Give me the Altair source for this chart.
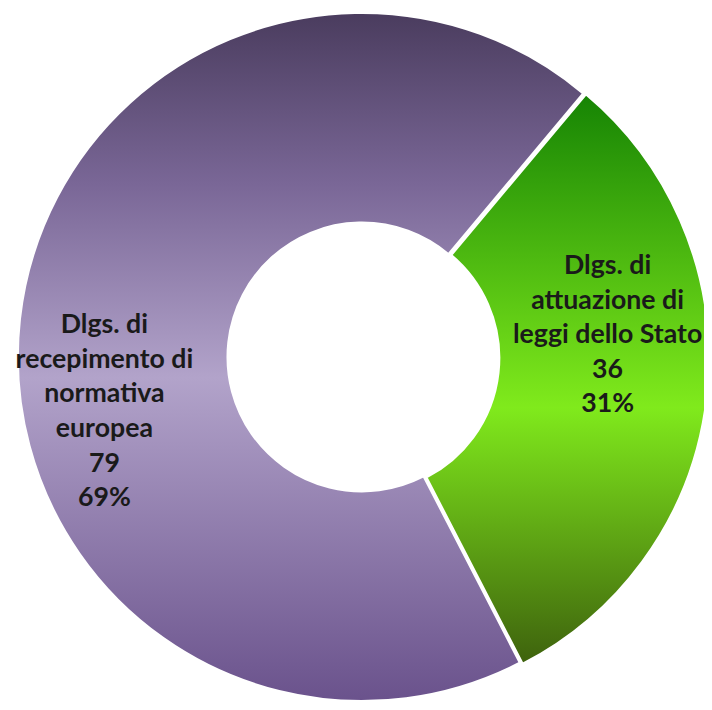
import altair as alt
import pandas as pd
import math

# ---- data ----
categories = [
    "Dlgs. di\nattuazione di\nleggi dello Stato",
    "Dlgs. di\nrecepimento di\nnormativa\neuropea",
]
counts = [36, 79]
percents = ["31%", "69%"]
order = [0, 1]

total = sum(counts)
df = pd.DataFrame({
    "category": categories,
    "count": counts,
    "pct": percents,
    "order": order,
})
df["label"] = df["category"] + "\n" + df["count"].astype(str) + "\n" + df["pct"]

START = math.radians(40)
theta_scale = alt.Scale(domain=[0, total], range=[START, START + 2 * math.pi])

W, H = 704, 702
CX, CY = 358, 349
R_OUT, R_IN = 348, 136

green_grad = alt.LinearGradient(
    gradient="linear", x1=0, x2=0, y1=0, y2=1,
    stops=[
        alt.GradientStop(offset=0, color="#168404"),
        alt.GradientStop(offset=0.55, color="#80ea1c"),
        alt.GradientStop(offset=1, color="#3e620d"),
    ],
)
purple_grad = alt.LinearGradient(
    gradient="linear", x1=0, x2=0, y1=0, y2=1,
    stops=[
        alt.GradientStop(offset=0, color="#4a3c5e"),
        alt.GradientStop(offset=0.25, color="#7a6797"),
        alt.GradientStop(offset=0.53, color="#b2a3ca"),
        alt.GradientStop(offset=1, color="#6a528c"),
    ],
)

base = (
    alt.Chart(df)
    .transform_window(cum="sum(count)", sort=[alt.SortField("order")])
    .transform_calculate(start="datum.cum - datum.count",
                         mid="datum.cum - datum.count / 2")
)

def arc_layer(idx, grad, cx, cy):
    return base.transform_filter(alt.datum.order == idx).mark_arc(
        color=grad, stroke="white", strokeWidth=2,
        radius=R_OUT, radius2=R_IN,
    ).encode(
        theta=alt.Theta("start:Q", scale=theta_scale, stack=None),
        theta2="cum:Q",
        x=alt.value(cx), y=alt.value(cy),
    )

def text_layer(idx, cx, cy, dx, dy):
    return base.transform_filter(alt.datum.order == idx).mark_text(
        font="Lato", fontWeight="bold", fontSize=27, lineHeight=35,
        lineBreak="\n", color="#1a1a1a", align="center", baseline="middle",
        radius=245, dx=dx, dy=dy,
    ).encode(
        theta=alt.Theta("mid:Q", scale=theta_scale, stack=None),
        text="label:N",
        x=alt.value(cx), y=alt.value(cy),
    )

chart = alt.layer(
    arc_layer(1, purple_grad, CX, CY),
    arc_layer(0, green_grad, CX + 3, CY + 1),
    text_layer(0, CX + 3, CY + 1, 2, -120),
    text_layer(1, CX, CY, -17, -5),
).properties(
    width=W, height=H,
    autosize=alt.AutoSizeParams(type="none"),
    padding=0,
).configure_view(stroke=None)

chart.save("out.html", embed_options={"renderer": "svg", "actions": False})
